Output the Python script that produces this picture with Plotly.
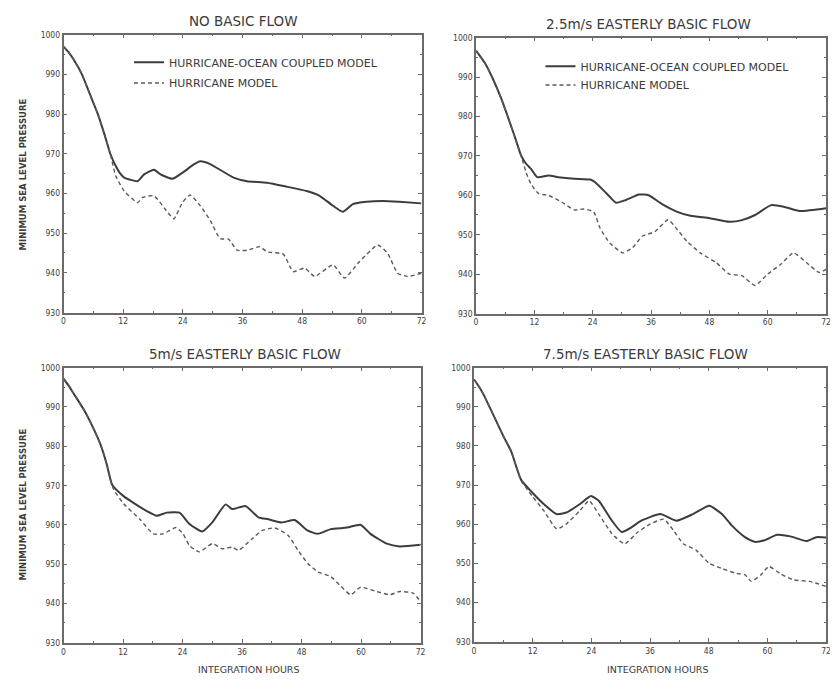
import plotly.graph_objects as go

# ---------------- data ----------------
panel_titles = ["NO BASIC FLOW", "2.5m/s EASTERLY BASIC FLOW",
                "5m/s EASTERLY BASIC FLOW", "7.5m/s EASTERLY BASIC FLOW"]
coupled_name = "HURRICANE-OCEAN COUPLED MODEL"
hurricane_name = "HURRICANE MODEL"
x_ticks = [0, 12, 24, 36, 48, 60, 72]
y_ticks = [930, 940, 950, 960, 970, 980, 990, 1000]

# Panel 1: no basic flow
nb_coupled_h = [0, 1, 2, 3.7, 5.3, 6.9, 8.2, 9.4, 10.5, 11.3, 12.2, 14.9, 16.2, 18.2, 19.5, 21.9, 23.9,
                26.2, 27.5, 29.5, 34.2, 36.9, 40.9, 44.9, 48.9, 51.5, 54.2, 56.2, 58.2, 60.9,
                64.2, 67.5, 72]
nb_coupled_p = [997, 995.6, 993.8, 990, 985, 980, 975, 970, 966.9, 965.2, 964, 963.1, 964.8, 966, 964.8,
                963.7, 965.2, 967.3, 968.1, 967.4, 964, 963.1, 962.7, 961.7, 960.6, 959.4, 956.9,
                955.4, 957.3, 957.9, 958.1, 957.9, 957.5]
nb_hurr_h = [0, 1, 2, 3.7, 5.3, 6.9, 8.2, 9.4, 10.5, 12.2, 14.9, 15.9, 18.2, 20.9, 22.2, 23.9, 25.5,
             27.5, 29.5, 31.5, 33.2, 34.9, 36.9, 39.5, 40.9, 44.2, 46.2, 48.5, 50.5, 54.2, 56.5,
             59.5, 63.2, 65.2, 67.2, 69.2, 72]
nb_hurr_p = [997, 995.6, 993.8, 990, 985, 980, 975, 970, 964.4, 960.6, 957.7, 959, 959.4, 955.3, 953.6,
             957.7, 959.6, 956.9, 953.2, 948.6, 948.5, 945.7, 945.7, 946.6, 945.3, 944.7, 940.3,
             941.2, 939.1, 942, 938.7, 942.8, 947, 944.9, 939.9, 939.1, 939.9]

# Panel 2: 2.5 m/s easterly basic flow
e25_coupled_h = [0, 1, 2, 3.3, 5.2, 7, 8.2, 9.3, 10.3, 11.3, 12.6, 14.9, 16.9, 20.2, 23.5, 24.5, 26.9,
                 28.8, 30.8, 33.5, 35.5, 38.1, 41.4, 44.1, 48.1, 52.1, 54.7, 57.4, 60.7, 63.3,
                 66.6, 72]
e25_coupled_p = [996.7, 995, 993.2, 990, 984.5, 978.3, 974, 970, 968, 966.7, 964.6, 965, 964.6, 964.2,
                 964, 963.3, 960.4, 958.1, 958.8, 960.2, 960, 957.9, 955.8, 954.8, 954.2, 953.3,
                 953.7, 955, 957.5, 957.1, 956, 956.7]
e25_hurr_h = [0, 1, 2, 3.3, 5.2, 7, 8.2, 9.3, 10.3, 11.3, 12.9, 14.9, 17.6, 20.2, 22.2, 24.2, 25.5,
              27.5, 30.2, 32.2, 34.2, 36.8, 39.5, 41.4, 43.4, 46.1, 49.4, 52.1, 54.7, 57.4, 60,
              62.7, 65.3, 68, 70.6, 72]
e25_hurr_p = [996.7, 995, 993.2, 990, 984.5, 978.3, 974, 970, 965.8, 962.9, 960.4, 960, 958.3, 956.3,
              956.5, 955.8, 951.7, 947.9, 945.4, 946.7, 949.6, 950.8, 953.8, 951.3, 948.3, 945.4,
              942.9, 940, 939.6, 937.1, 940, 942.5, 945.4, 942.9, 940.4, 941.2]

# Panel 3: 5 m/s easterly basic flow
e5_coupled_h = [0, 1, 2, 4.2, 6, 7.5, 8.7, 9.8, 12.1, 14.1, 16.8, 18.8, 20.8, 23.4, 25.4, 28, 30,
                32.7, 34, 36.7, 39.3, 41.3, 44, 46.6, 49.3, 51.3, 53.9, 57.2, 59.9, 61.9, 65.2,
                67.8, 72]
e5_coupled_p = [997.2, 995.5, 993.5, 989.1, 984.6, 980.3, 975.5, 970.2, 967.3, 965.6, 963.5, 962.3,
                963.1, 963.1, 960.2, 958.3, 960.6, 965.2, 964, 964.8, 961.9, 961.4, 960.6, 961.2,
                958.5, 957.7, 958.9, 959.3, 960, 957.7, 955.2, 954.5, 954.9]
e5_hurr_h = [0, 1, 2, 4.2, 6, 7.5, 8.7, 10.1, 12.1, 15.4, 18.1, 20.1, 22.7, 24.1, 25.4, 27.4, 30,
             32, 34, 35.3, 38, 40, 42.6, 45.3, 47.3, 49.3, 51.3, 53.9, 55.9, 57.9, 59.9, 63.2,
             65.8, 67.8, 70.5, 72]
e5_hurr_p = [997.2, 995.5, 993.5, 989.1, 984.6, 980.3, 975.5, 969, 965.4, 961.4, 957.7, 957.7, 959.3,
             957.7, 954.7, 953.1, 955.2, 953.9, 954.3, 953.5, 956.4, 958.5, 959.2, 957.3, 953.5,
             950.1, 948, 946.8, 944.4, 942.2, 944.1, 943, 942.2, 943, 942.6, 940.5]

# Panel 4: 7.5 m/s easterly basic flow
e75_coupled_h = [0, 1, 2, 4.3, 6, 7.6, 9.6, 11.9, 14.3, 16.9, 18.9, 21.6, 23.9, 25.5, 28.2, 30.2,
                 32.2, 34.2, 38.1, 41.4, 44.8, 48.1, 50.7, 52.7, 55.4, 57.4, 59.4, 62, 64.7, 68,
                 70, 72]
e75_coupled_p = [997, 995.2, 993, 987, 982.5, 978.6, 971.4, 968.1, 965.1, 962.6, 963, 965.1, 967.2,
                 966, 960.9, 958, 959.2, 960.9, 962.6, 960.9, 962.6, 964.7, 962.6, 959.7, 956.7,
                 955.5, 955.9, 957.3, 956.9, 955.7, 956.7, 956.6]
e75_hurr_h = [0, 1, 2, 4.3, 6, 7.6, 9.6, 11.9, 14.3, 16.9, 18.9, 21.6, 23.5, 25.5, 28.2, 30.8, 33.5,
              36.1, 38.8, 40.8, 42.8, 45.4, 48.1, 50.7, 53.4, 55.4, 56.7, 58.7, 60.3, 62.7, 65.3,
              68.6, 72]
e75_hurr_p = [997, 995.2, 993, 987, 982.5, 978.6, 971.2, 967.2, 963.4, 958.8, 960.1, 963.4, 966,
              962.6, 957.6, 955, 958, 960.1, 961.3, 958.4, 955, 953.4, 950, 948.7, 947.5, 947.1,
              945.4, 947.1, 949.2, 947.3, 945.8, 945.4, 944.1]

series = [
    (nb_coupled_h, nb_coupled_p, nb_hurr_h, nb_hurr_p),
    (e25_coupled_h, e25_coupled_p, e25_hurr_h, e25_hurr_p),
    (e5_coupled_h, e5_coupled_p, e5_hurr_h, e5_hurr_p),
    (e75_coupled_h, e75_coupled_p, e75_hurr_h, e75_hurr_p),
]

# ---------------- layout geometry ----------------
# the page body has an 8px margin, so the figure starts at page pixel (8, 8)
OFF = 8
W, H = 838 - OFF, 689 - OFF
def px_x(v):
    return (v - OFF) / W
def px_y(v):
    return 1 - (v - OFF) / H

x_domains = [[px_x(62), px_x(423)], [px_x(478), px_x(831)], [px_x(62), px_x(422)], [px_x(476), px_x(831)]]
y_domains = [[px_y(312), px_y(30)], [px_y(313), px_y(33)], [px_y(647), px_y(368)], [px_y(646), px_y(368)]]

LINE = "#3c3c3c"
DASH = "#5a5a5a"
AX = "#6a6a6a"
TXT = "#3a3a3a"
tick_font = dict(family="DejaVu Sans Condensed, Liberation Sans Narrow, sans-serif", size=8.5, color="#404040")

legend_pos = [((128, 58), (128, 79)), ((543, 62), (543, 81))]

fig = go.Figure()
for i, (ch, cp, hh, hp) in enumerate(series):
    ax = "" if i == 0 else str(i + 1)
    show = i in (0, 1)
    lg_c = "legend" if i == 0 else ("legend3" if i == 1 else None)
    lg_h = "legend2" if i == 0 else ("legend4" if i == 1 else None)
    kw_c = dict(legend=lg_c) if lg_c else {}
    kw_h = dict(legend=lg_h) if lg_h else {}
    fig.add_trace(go.Scatter(
        x=ch, y=cp, mode="lines", name=coupled_name,
        line=dict(color=LINE, width=2, shape="spline", smoothing=0.5),
        xaxis="x" + ax, yaxis="y" + ax, showlegend=show, **kw_c))
    fig.add_trace(go.Scatter(
        x=hh, y=hp, mode="lines", name=hurricane_name,
        line=dict(color=DASH, width=1.4, dash="4px,3px", shape="spline", smoothing=0.5),
        xaxis="x" + ax, yaxis="y" + ax, showlegend=show, **kw_h))

def legend_box(pos):
    return dict(x=px_x(pos[0]), y=px_y(pos[1]), xanchor="left", yanchor="middle",
                bgcolor="rgba(0,0,0,0)", font=dict(size=11, color=TXT), itemwidth=30)

layout = dict(
    width=W, height=H, autosize=False,
    margin=dict(l=0, r=0, t=0, b=0),
    paper_bgcolor="white", plot_bgcolor="white",
    font=dict(family="DejaVu Sans, sans-serif", color=TXT),
    legend=legend_box(legend_pos[0][0]),
    legend2=legend_box(legend_pos[0][1]),
    legend3=legend_box(legend_pos[1][0]),
    legend4=legend_box(legend_pos[1][1]),
)
for i in range(4):
    sfx = "" if i == 0 else str(i + 1)
    layout["xaxis" + sfx] = dict(
        domain=x_domains[i], range=[0, 72], tickvals=x_ticks, ticktext=[str(t) for t in x_ticks],
        showgrid=False, zeroline=False, showline=True, linecolor=AX, linewidth=1.5, mirror="ticks",
        ticks="inside", ticklen=4, tickcolor=AX, tickwidth=1, tickfont=tick_font,
        minor=dict(ticks="inside", dtick=6, ticklen=2, tickcolor=AX, showgrid=False),
        anchor="y" + sfx, fixedrange=True)
    layout["yaxis" + sfx] = dict(
        domain=y_domains[i], range=[930, 1000], tickvals=y_ticks, ticktext=[str(t) for t in y_ticks],
        showgrid=False, zeroline=False, showline=True, linecolor=AX, linewidth=1.5, mirror="ticks",
        ticks="inside", ticklen=4, tickcolor=AX, tickwidth=1, tickfont=tick_font,
        minor=dict(ticks="inside", dtick=5, ticklen=2, tickcolor=AX, showgrid=False),
        anchor="x" + sfx, fixedrange=True)
fig.update_layout(**layout)

title_pos = [(243, 16), (652, 19), (245, 354), (649, 354)]
for t, (cx, cy) in zip(panel_titles, title_pos):
    fig.add_annotation(text=t, x=px_x(cx), y=px_y(cy), xref="paper", yref="paper",
                       showarrow=False, xanchor="center", yanchor="middle",
                       font=dict(size=13.5, color=TXT))

for cy in (172, 507):
    fig.add_annotation(text="<b>MINIMUM SEA LEVEL PRESSURE</b>", x=px_x(21), y=px_y(cy),
                       xref="paper", yref="paper", showarrow=False, textangle=-90,
                       xanchor="center", yanchor="middle",
                       font=dict(size=8.5, color=TXT, family="DejaVu Sans, sans-serif"))
for cx in (249, 661):
    fig.add_annotation(text="INTEGRATION HOURS", x=px_x(cx), y=px_y(674),
                       xref="paper", yref="paper", showarrow=False,
                       xanchor="center", yanchor="middle",
                       font=dict(size=9.5, color=TXT, family="DejaVu Sans, sans-serif"))

fig.write_html("out.html")
